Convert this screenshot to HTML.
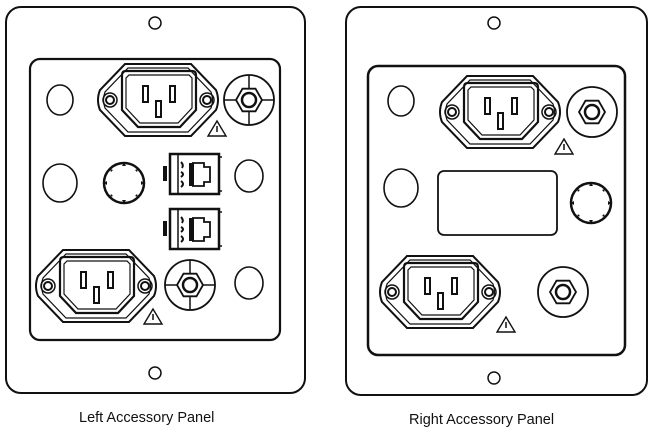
<!DOCTYPE html>
<html><head><style>
html,body{margin:0;padding:0;background:#fff;}
svg{display:block;}
text{font-family:"Liberation Sans",Arial,sans-serif;font-size:14.5px;fill:#111;}
</style></head><body>
<svg width="663" height="436" viewBox="0 0 663 436" xmlns="http://www.w3.org/2000/svg">
<defs>
<g id="iec" fill="none" stroke="#111">
  <path d="M-33,-36 L33,-36 L58,-10 Q62,0 58,10 L33,36 L-33,36 L-58,10 Q-62,0 -58,-10 Z" stroke-width="2"/>
  <path d="M-30,-32 L30,-32 L53,-8 Q56,0 53,8 L30,32 L-30,32 L-53,8 Q-56,0 -53,-8 Z" stroke-width="1.2"/>
  <path d="M-32,-29 Q-36,-29 -36,-25 L-36,10 L-20,27 L22,27 L38,10 L38,-25 Q38,-29 34,-29 Z" stroke-width="2.2"/>
  <path d="M-29,-25 L31,-25 L34,-22 L34,8 L20,23 L-18,23 L-32,8 L-32,-22 Z" stroke-width="1.2"/>
  <rect x="-15" y="-14" width="5" height="16" stroke-width="2"/>
  <rect x="12" y="-14" width="5" height="16" stroke-width="2"/>
  <rect x="-2" y="1" width="5" height="16" stroke-width="2"/>
  <circle cx="-48" cy="0" r="7" stroke-width="1.5"/>
  <circle cx="-48" cy="0" r="4" stroke-width="2"/>
  <circle cx="49" cy="0" r="7" stroke-width="1.5"/>
  <circle cx="49" cy="0" r="4" stroke-width="2"/>
</g>
<g id="knob" fill="none" stroke="#111">
  <circle r="25" stroke-width="1.8"/>
  <polygon points="13,0 6.5,11.3 -6.5,11.3 -13,0 -6.5,-11.3 6.5,-11.3" stroke-width="1.8"/>
  <circle r="7" stroke-width="2.5"/>
</g>
<g id="knobx" fill="none" stroke="#111">
  <circle r="25" stroke-width="1.8"/>
  <line x1="-25" y1="0" x2="-13" y2="0" stroke-width="1.5"/>
  <line x1="25" y1="0" x2="13" y2="0" stroke-width="1.5"/>
  <line x1="0" y1="-25" x2="0" y2="-11" stroke-width="1.5"/>
  <line x1="0" y1="25" x2="0" y2="11" stroke-width="1.5"/>
  <polygon points="13,0 6.5,11.3 -6.5,11.3 -13,0 -6.5,-11.3 6.5,-11.3" stroke-width="1.8"/>
  <circle r="7" stroke-width="2.5"/>
</g>
<g id="din" fill="none" stroke="#111">
  <circle r="20" stroke-width="2.5"/>
  <g fill="#111" stroke="none">
   <polygon points="0,-20 -2,-17 2,-17"/><polygon points="0,20 -2,17 2,17"/>
   <polygon points="-20,0 -17,-2 -17,2"/><polygon points="20,0 17,-2 17,2"/>
   <polygon points="14,-14 11,-13 13,-11"/><polygon points="-14,-14 -11,-13 -13,-11"/>
   <polygon points="14,14 11,13 13,11"/><polygon points="-14,14 -11,13 -13,11"/>
  </g>
</g>
<g id="warn" fill="none" stroke="#111">
  <polygon points="0,-8 9,7 -9,7" stroke-width="1.4"/>
  <line x1="0" y1="-3" x2="0" y2="3" stroke-width="1.5"/>
</g>
<g id="rj" fill="none" stroke="#111">
  <rect x="0" y="0" width="49" height="40" stroke-width="2.5"/>
  <line x1="49" y1="3" x2="52" y2="3" stroke-width="1.5"/>
  <line x1="49" y1="37" x2="52" y2="37" stroke-width="1.5"/>
  <line x1="8" y1="0" x2="8" y2="40" stroke-width="1.5"/>
  <rect x="-7" y="12" width="4" height="15" fill="#111" stroke="none"/>
  <rect x="19" y="9" width="5" height="23" fill="#111" stroke="none"/>
  <path d="M22,9 L34,9 L34,13 L40,13 L40,28 L34,28 L34,32 L22,32" stroke-width="1.8"/>
  <path d="M11,8 q3,3 1,6 M11,18 q4,2 0,5 M11,27 q4,3 0,6" stroke-width="2"/>
</g>
</defs>

<!-- Left panel -->
<rect x="6" y="7" width="299" height="386" rx="15" fill="none" stroke="#111" stroke-width="2"/>
<circle cx="155" cy="23" r="6" fill="none" stroke="#111" stroke-width="1.5"/>
<circle cx="155" cy="373" r="6" fill="none" stroke="#111" stroke-width="1.5"/>
<rect x="30" y="59" width="250" height="281" rx="10" fill="none" stroke="#111" stroke-width="2.2"/>
<use href="#iec" x="158" y="100"/>
<use href="#knobx" x="249" y="100"/>
<ellipse cx="60" cy="100" rx="13" ry="15" fill="none" stroke="#111" stroke-width="1.6"/>
<use href="#warn" x="217" y="129"/>
<ellipse cx="60" cy="183" rx="17" ry="19" fill="none" stroke="#111" stroke-width="1.6"/>
<use href="#din" x="124" y="183"/>
<use href="#rj" x="170" y="154"/>
<use href="#rj" x="170" y="209"/>
<ellipse cx="249" cy="176" rx="14" ry="16" fill="none" stroke="#111" stroke-width="1.6"/>
<use href="#iec" x="96" y="286"/>
<use href="#knobx" x="190" y="285"/>
<ellipse cx="249" cy="283" rx="14" ry="16" fill="none" stroke="#111" stroke-width="1.6"/>
<use href="#warn" x="153" y="317"/>

<!-- Right panel -->
<rect x="346" y="7" width="301" height="388" rx="15" fill="none" stroke="#111" stroke-width="2"/>
<circle cx="494" cy="23" r="6" fill="none" stroke="#111" stroke-width="1.5"/>
<circle cx="494" cy="378" r="6" fill="none" stroke="#111" stroke-width="1.5"/>
<rect x="368" y="66" width="257" height="289" rx="10" fill="none" stroke="#111" stroke-width="2.5"/>
<use href="#iec" x="500" y="112"/>
<use href="#knob" x="592" y="112"/>
<ellipse cx="401" cy="101" rx="13" ry="15" fill="none" stroke="#111" stroke-width="1.6"/>
<use href="#warn" x="564" y="147"/>
<ellipse cx="401" cy="188" rx="17" ry="19" fill="none" stroke="#111" stroke-width="1.6"/>
<rect x="438" y="171" width="119" height="64" rx="6" fill="none" stroke="#111" stroke-width="1.8"/>
<use href="#din" x="591" y="203"/>
<use href="#iec" x="440" y="292"/>
<use href="#knob" x="563" y="292"/>
<use href="#warn" x="506" y="325"/>

<text x="79" y="422">Left Accessory Panel</text>
<text x="409" y="424">Right Accessory Panel</text>
</svg>
</body></html>
